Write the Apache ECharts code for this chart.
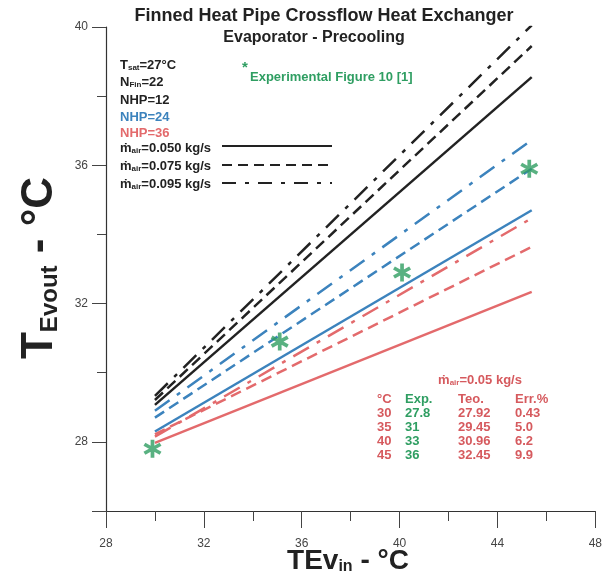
<!DOCTYPE html>
<html lang="en">
<head>
<meta charset="UTF-8">
<title>Finned Heat Pipe Crossflow Heat Exchanger</title>
<script src="https://cdn.jsdelivr.net/npm/echarts@6/dist/echarts.min.js"></script>
<style>
  html, body { margin: 0; padding: 0; background: #fff; }
  #chart { width: 605px; height: 580px; }
</style>
</head>
<body>
<div id="chart"></div>
<script>
    // model lines: TEv_in range and TEv_out at both ends
    var lineX = [30, 45.4];
    var nhp12_m050 = [29.07, 38.55];
    var nhp12_m075 = [29.21, 39.45];
    var nhp12_m095 = [29.33, 40.05];
    var nhp24_m050 = [28.3, 34.7];
    var nhp24_m075 = [28.7, 35.9];
    var nhp24_m095 = [28.9, 36.73];
    var nhp36_m050 = [27.97, 32.34];
    var nhp36_m075 = [28.22, 33.64];
    var nhp36_m095 = [28.15, 34.47];

    // experimental points (Figure 10 [1])
    var expX = [29.9, 35.1, 40.1, 45.3];
    var expY = [27.8, 30.9, 32.9, 35.9];

    // table, mair = 0.05 kg/s
    var tabTin = ['30', '35', '40', '45'];
    var tabExp = ['27.8', '31', '33', '36'];
    var tabTeo = ['27.92', '29.45', '30.96', '32.45'];
    var tabErr = ['0.43', '5.0', '6.2', '9.9'];

    // axis ticks
    var yLabels = [28, 32, 36, 40];
    var yMajorTicks = [26, 28, 32, 36, 40];
    var yMinorTicks = [30, 34, 38];

    var FONT = "'Liberation Sans', Arial, sans-serif";
    var BLACK = '#222222';
    var BLUE = '#3c83bd';
    var RED = '#e36a6c';
    var GREEN = '#2f9e62';
    var TRED = '#d65a5e';
    var DASH = [11, 6];
    var DASHDOT = [18, 9, 4, 9];

    var STAR = 'path://M8 0H12V20H8Z M0.34 6.73L2.34 3.27L19.66 13.27L17.66 16.73Z M17.66 3.27L19.66 6.73L2.34 16.73L0.34 13.27Z';

    function mkLine(ys, color, dash) {
        return {
            type: 'line',
            data: lineX.map(function (x, i) { return [x, ys[i]]; }),
            symbol: 'none',
            silent: true,
            lineStyle: { color: color, width: 2.5, type: dash }
        };
    }

    function txt(x, y, text, color, size, extra) {
        var style = {
            text: text, fill: color, font: 'bold ' + size + 'px ' + FONT,
            align: 'left', verticalAlign: 'middle'
        };
        for (var k in extra) style[k] = extra[k];
        return { type: 'text', x: x, y: y, style: style, silent: true };
    }

    function subRich(size, subSize, color) {
        return {
            b: { fontSize: size, fontWeight: 'bold', fontFamily: FONT, color: color },
            s: { fontSize: subSize, fontWeight: 'bold', fontFamily: FONT, color: color, verticalAlign: 'bottom' }
        };
    }

    var yName = txt(40, 268, '{b|T}{s|Evout}{b| - °C}', '#222', 44, {
        align: 'center', rich: subRich(44, 24, '#222')
    });
    yName.rotation = Math.PI / 2;

    var graphics = [
        txt(324, 16, 'Finned Heat Pipe Crossflow Heat Exchanger', '#222', 18, { align: 'center' }),
        txt(314, 38, 'Evaporator - Precooling', '#222', 16, { align: 'center' }),
        txt(120, 65, '{b|T}{s|sat}{b|=27°C}', '#222', 13, { rich: subRich(13, 8, '#222') }),
        txt(120, 82, '{b|N}{s|Fin}{b|=22}', '#222', 13, { rich: subRich(13, 8, '#222') }),
        txt(120, 100, 'NHP=12', '#222', 13),
        txt(120, 117, 'NHP=24', BLUE, 13),
        txt(120, 133, 'NHP=36', RED, 13),
        txt(120, 148, '{b|ṁ}{s|air}{b|=0.050 kg/s}', '#222', 13, { rich: subRich(13, 8, '#222') }),
        txt(120, 166, '{b|ṁ}{s|air}{b|=0.075 kg/s}', '#222', 13, { rich: subRich(13, 8, '#222') }),
        txt(120, 184, '{b|ṁ}{s|air}{b|=0.095 kg/s}', '#222', 13, { rich: subRich(13, 8, '#222') }),
        { type: 'line', shape: { x1: 222, y1: 146, x2: 332, y2: 146 }, style: { stroke: BLACK, lineWidth: 2 } },
        { type: 'line', shape: { x1: 222, y1: 165, x2: 332, y2: 165 }, style: { stroke: BLACK, lineWidth: 2, lineDash: [10, 6] } },
        { type: 'line', shape: { x1: 222, y1: 183, x2: 332, y2: 183 }, style: { stroke: BLACK, lineWidth: 2, lineDash: [14, 9, 4, 9] } },
        txt(242, 68, '*', GREEN, 15),
        txt(250, 77, 'Experimental Figure 10 [1]', GREEN, 13),
        txt(480, 380, '{b|ṁ}{s|air}{b|=0.05 kg/s}', TRED, 13, { align: 'center', rich: subRich(13, 8, TRED) }),
        txt(377, 399, '°C', TRED, 13),
        txt(405, 399, 'Exp.', GREEN, 13),
        txt(458, 399, 'Teo.', TRED, 13),
        txt(515, 399, 'Err.%', TRED, 13),
        yName,
        txt(348, 561, '{b|TEv}{s|in}{b| - °C}', '#222', 28, {
            align: 'center', rich: subRich(28, 16, '#222')
        })
    ];

    for (var i = 0; i < tabTin.length; i++) {
        var ty = 413 + i * 14;
        graphics.push(txt(377, ty, tabTin[i], TRED, 13));
        graphics.push(txt(405, ty, tabExp[i], GREEN, 13));
        graphics.push(txt(458, ty, tabTeo[i], TRED, 13));
        graphics.push(txt(515, ty, tabErr[i], TRED, 13));
    }

    var chart = echarts.init(document.getElementById('chart'), null, { renderer: 'canvas' });
    chart.setOption({
        animation: false,
        backgroundColor: '#fff',
        grid: { left: 106, right: 7, top: 27, bottom: 69 },
        xAxis: {
            type: 'value', min: 28, max: 48, interval: 4,
            axisLine: { lineStyle: { color: '#333', width: 1.2 } },
            axisTick: { length: 17, lineStyle: { color: '#444' } },
            minorTick: { show: true, splitNumber: 2, length: 10, lineStyle: { color: '#444' } },
            splitLine: { show: false },
            axisLabel: { margin: 27, color: '#444', fontSize: 12, fontFamily: FONT }
        },
        yAxis: [{
            type: 'value', min: 26, max: 40,
            axisLine: { show: true, lineStyle: { color: '#333', width: 1.2 } },
            axisTick: { show: true, customValues: yMajorTicks, length: 14, lineStyle: { color: '#444' } },
            splitLine: { show: false },
            axisLabel: { customValues: yLabels, margin: 18, color: '#444', fontSize: 12, fontFamily: FONT }
        }, {
            type: 'value', min: 26, max: 40, position: 'left',
            axisLine: { show: false },
            axisTick: { show: true, customValues: yMinorTicks, length: 9, lineStyle: { color: '#444' } },
            splitLine: { show: false },
            axisLabel: { show: false }
        }],
        graphic: graphics,
        series: [
            mkLine(nhp12_m050, BLACK, 'solid'),
            mkLine(nhp12_m075, BLACK, DASH),
            mkLine(nhp12_m095, BLACK, DASHDOT),
            mkLine(nhp24_m050, BLUE, 'solid'),
            mkLine(nhp24_m075, BLUE, DASH),
            mkLine(nhp24_m095, BLUE, DASHDOT),
            mkLine(nhp36_m050, RED, 'solid'),
            mkLine(nhp36_m075, RED, DASH),
            mkLine(nhp36_m095, RED, DASHDOT),
            {
                type: 'scatter',
                data: expX.map(function (x, i) { return [x, expY[i]]; }),
                symbol: STAR, symbolSize: 18,
                itemStyle: { color: GREEN },
                z: 5
            }
        ]
    });
</script>
</body>
</html>
